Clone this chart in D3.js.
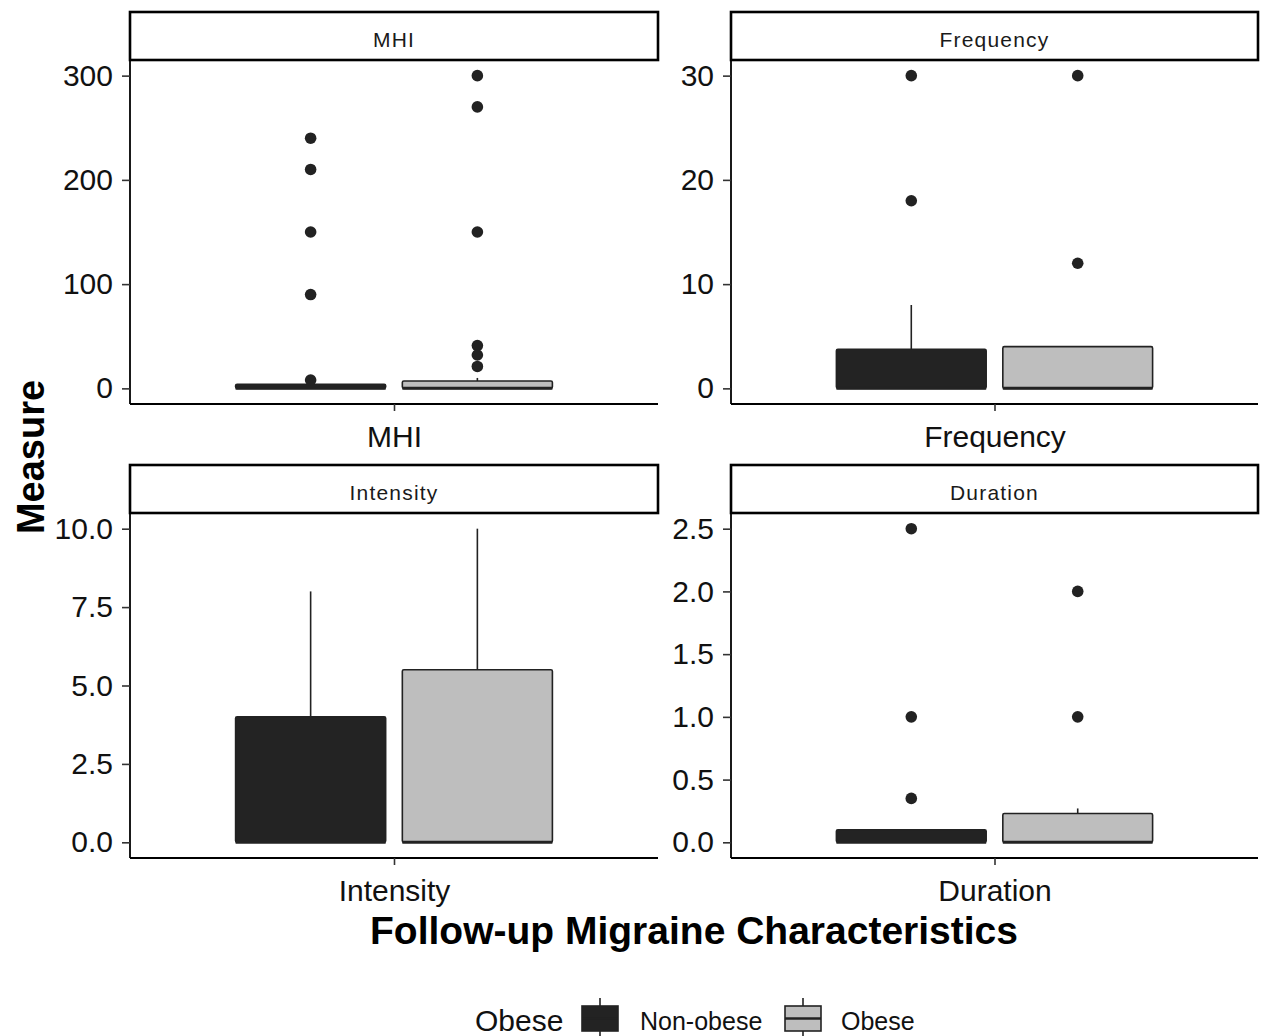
<!DOCTYPE html>
<html><head><meta charset="utf-8">
<script src="https://cdn.jsdelivr.net/npm/d3@7"></script>
<style>body{margin:0;background:#fff}svg{display:block}text{font-family:"Liberation Sans",Arial,Helvetica,sans-serif}</style>
</head><body>
<script>
const panels = ["MHI","Frequency","Intensity","Duration"];
const groups = ["Non-obese","Obese"];
const yDomains = {MHI:[0,300], Frequency:[0,30], Intensity:[0,10], Duration:[0,2.5]};
const yTicks = {MHI:[0,100,200,300], Frequency:[0,10,20,30], Intensity:[0,2.5,5,7.5,10], Duration:[0,0.5,1,1.5,2,2.5]};
const tickFormat = {MHI:d3.format("d"), Frequency:d3.format("d"), Intensity:d3.format(".1f"), Duration:d3.format(".1f")};
// box stats per panel: [Non-obese, Obese]
const q1 = {MHI:[0,0], Frequency:[0,0], Intensity:[0,0], Duration:[0,0]};
const med = {MHI:[0,0], Frequency:[0,0], Intensity:[0,0], Duration:[0,0]};
const q3 = {MHI:[4,7], Frequency:[3.75,4], Intensity:[4,5.5], Duration:[0.1,0.23]};
const whiskHi = {MHI:[4,10], Frequency:[8,4], Intensity:[8,10], Duration:[0.1,0.27]};
const outliers = {
  MHI:[[240,210,150,90,8],[300,270,150,41,32,21]],
  Frequency:[[30,18],[30,12]],
  Intensity:[[],[]],
  Duration:[[2.5,1,0.35],[2,1]]
};
const fills = {"Non-obese":"#232323","Obese":"#bebebe"};

const W=1263,H=1036;
const svg=d3.select("body").append("svg").attr("width",W).attr("height",H);
const layout = {
  MHI:{x0:130,x1:658,sy0:12,y0:60,y1:404},
  Frequency:{x0:731,x1:1258,sy0:12,y0:60,y1:404},
  Intensity:{x0:130,x1:658,sy0:465,y0:513,y1:858},
  Duration:{x0:731,x1:1258,sy0:465,y0:513,y1:858}
};
const dark="#222";
panels.forEach(p=>{
  const L=layout[p];
  const g=svg.append("g");
  const [lo,hi]=yDomains[p]; const ex=(hi-lo)*0.05;
  const y=d3.scaleLinear().domain([lo-ex,hi+ex]).range([L.y1,L.y0]);
  const xc=d3.scaleLinear().domain([0.4,1.6]).range([L.x0,L.x1]);
  const xb=d3.scaleBand().domain(groups).range([xc(1-0.36),xc(1+0.36)]).paddingInner(0.1);
  // strip
  g.append("rect").attr("x",L.x0).attr("y",L.sy0).attr("width",L.x1-L.x0).attr("height",L.y0-L.sy0)
    .attr("fill","#fff").attr("stroke","#000").attr("stroke-width",2.6);
  g.append("text").attr("x",(L.x0+L.x1)/2).attr("y",L.sy0+35).attr("text-anchor","middle")
    .attr("font-size",21).attr("letter-spacing","1.2px").attr("fill","#1a1a1a").text(p);
  // boxes
  groups.forEach((grp,i)=>{
    const bx=xb(grp), bw=xb.bandwidth(), cx=bx+bw/2;
    if(whiskHi[p][i]>q3[p][i]) g.append("line").attr("x1",cx).attr("x2",cx).attr("y1",y(q3[p][i])).attr("y2",y(whiskHi[p][i])).attr("stroke",dark).attr("stroke-width",1.6);
    g.append("rect").attr("x",bx).attr("y",y(q3[p][i])).attr("width",bw).attr("height",Math.max(y(q1[p][i])-y(q3[p][i]),1))
      .attr("fill",fills[grp]).attr("stroke",dark).attr("stroke-width",1.6).attr("rx",1.5);
    g.append("line").attr("x1",bx).attr("x2",bx+bw).attr("y1",y(med[p][i])).attr("y2",y(med[p][i])).attr("stroke",dark).attr("stroke-width",3);
    g.selectAll(null).data(outliers[p][i]).enter().append("circle").attr("cx",cx).attr("cy",d=>y(d)).attr("r",5.8).attr("fill",dark);
  });
  // axes
  const ya=d3.axisLeft(y).tickValues(yTicks[p]).tickFormat(tickFormat[p]).tickSize(8).tickPadding(9);
  const yg=g.append("g").attr("transform",`translate(${L.x0},0)`).call(ya);
  yg.select(".domain").attr("d",`M0,${L.y0}V${L.y1}`).attr("stroke","#000").attr("stroke-width",1.8);
  yg.selectAll(".tick line").attr("stroke","#333").attr("stroke-width",1.6);
  yg.selectAll(".tick text").attr("font-size",30).attr("fill","#111").attr("font-family","Liberation Sans, Arial, sans-serif");
  const xa=d3.axisBottom(d3.scaleOrdinal().domain([p]).range([xc(1)])).tickSize(7).tickPadding(7);
  const xg=g.append("g").attr("transform",`translate(0,${L.y1})`).call(xa);
  xg.select(".domain").attr("d",`M${L.x0},0H${L.x1}`).attr("stroke","#000").attr("stroke-width",1.8);
  xg.selectAll(".tick line").attr("stroke","#333").attr("stroke-width",1.6);
  xg.selectAll(".tick text").attr("font-size",30).attr("fill","#111").attr("font-family","Liberation Sans, Arial, sans-serif")
    .attr("y",43).attr("dy","0");
});
// axis titles
svg.append("text").attr("transform","translate(44,457) rotate(-90)").attr("text-anchor","middle")
  .attr("font-size",38).attr("font-weight","bold").attr("fill","#000").text("Measure");
svg.append("text").attr("x",694).attr("y",944).attr("text-anchor","middle")
  .attr("font-size",39).attr("font-weight","bold").attr("fill","#000").text("Follow-up Migraine Characteristics");
// legend
const lg=svg.append("g");
lg.append("text").attr("x",475).attr("y",1031).attr("font-size",30).attr("fill","#111").text("Obese");
const keys=[{g:"Non-obese",x:582,tx:640},{g:"Obese",x:785,tx:841}];
keys.forEach(k=>{
  const cx=k.x+18;
  lg.append("line").attr("x1",cx).attr("x2",cx).attr("y1",998).attr("y2",1036).attr("stroke",dark).attr("stroke-width",1.6);
  lg.append("rect").attr("x",k.x).attr("y",1006).attr("width",36).attr("height",25).attr("fill",fills[k.g]).attr("stroke",dark).attr("stroke-width",1.6);
  lg.append("line").attr("x1",k.x).attr("x2",k.x+36).attr("y1",1018.5).attr("y2",1018.5).attr("stroke",dark).attr("stroke-width",2.5);
  lg.append("text").attr("x",k.tx).attr("y",1030).attr("font-size",25).attr("fill","#111").text(k.g);
});
</script>
</body></html>
